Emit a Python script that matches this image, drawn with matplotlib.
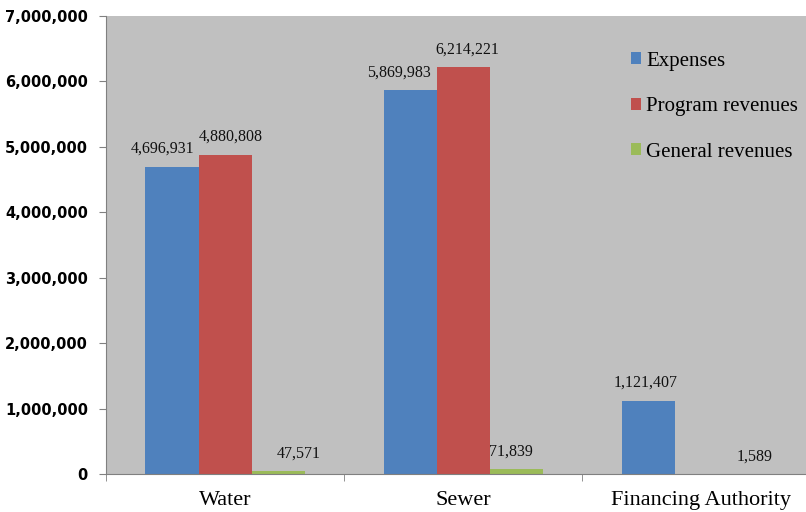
import numpy as np
import matplotlib.pyplot as plt
from matplotlib.ticker import FuncFormatter

categories = ["Water", "Sewer", "Financing Authority"]
series_names = ["Expenses", "Program revenues", "General revenues"]
expenses = [4696931, 5869983, 1121407]
program_revenues = [4880808, 6214221, np.nan]
general_revenues = [47571, 71839, 1589]
colors = ["#4F81BD", "#C0504D", "#9BBB59"]

# hand-placed label nudges (points) so neighbouring labels don't collide
label_nudge = [[-7, -8, -2], [4, 3, 0], [15, -4, 0]]

serif = "Liberation Serif"

fig = plt.figure(figsize=(8.06, 5.12), dpi=100)
ax = fig.add_axes([106 / 806, 38 / 512, 700 / 806, 458 / 512])
ax.set_facecolor("#C0C0C0")

x = np.arange(len(categories))
width = 0.223
for i, (vals, name, c) in enumerate(zip([expenses, program_revenues, general_revenues], series_names, colors)):
    pos = x + (i - 1) * width
    ax.bar(pos, vals, width, color=c, label=name, zorder=2)
    for j, (p, v) in enumerate(zip(pos, vals)):
        if np.isnan(v):
            continue
        ax.annotate(f"{v:,.0f}", (p, v), xytext=(label_nudge[i][j], 7),
                    textcoords="offset points", ha="center", va="bottom",
                    fontsize=11.5, family=serif, color="#111111")

ax.set_xlim(-0.5, 2.44)
ax.set_ylim(0, 7000000)
ax.set_yticks(np.arange(0, 7000001, 1000000))
ax.yaxis.set_major_formatter(FuncFormatter(lambda v, _: f"{v:,.0f}"))
for lab in ax.get_yticklabels():
    lab.set_fontweight("bold")
    lab.set_fontsize(10.5)
ax.tick_params(axis="y", length=5, color="#808080", pad=8)

ax.set_xticks(x)
ax.set_xticklabels(categories, fontsize=16, family=serif)
ax.tick_params(axis="x", length=0, pad=12)
ax.set_xticks([-0.5, 0.5, 1.5], minor=True)
ax.tick_params(axis="x", which="minor", length=5, color="#808080")

for s in ["top", "right"]:
    ax.spines[s].set_visible(False)
for s in ["left", "bottom"]:
    ax.spines[s].set_color("#808080")

ax.legend(loc="upper left", bbox_to_anchor=(0.723, 0.963), frameon=False,
          prop={"family": serif, "size": 15}, handlelength=0.5,
          handleheight=0.5, handletextpad=0.25, labelspacing=1.27)

fig.savefig("out.png", dpi=100)
